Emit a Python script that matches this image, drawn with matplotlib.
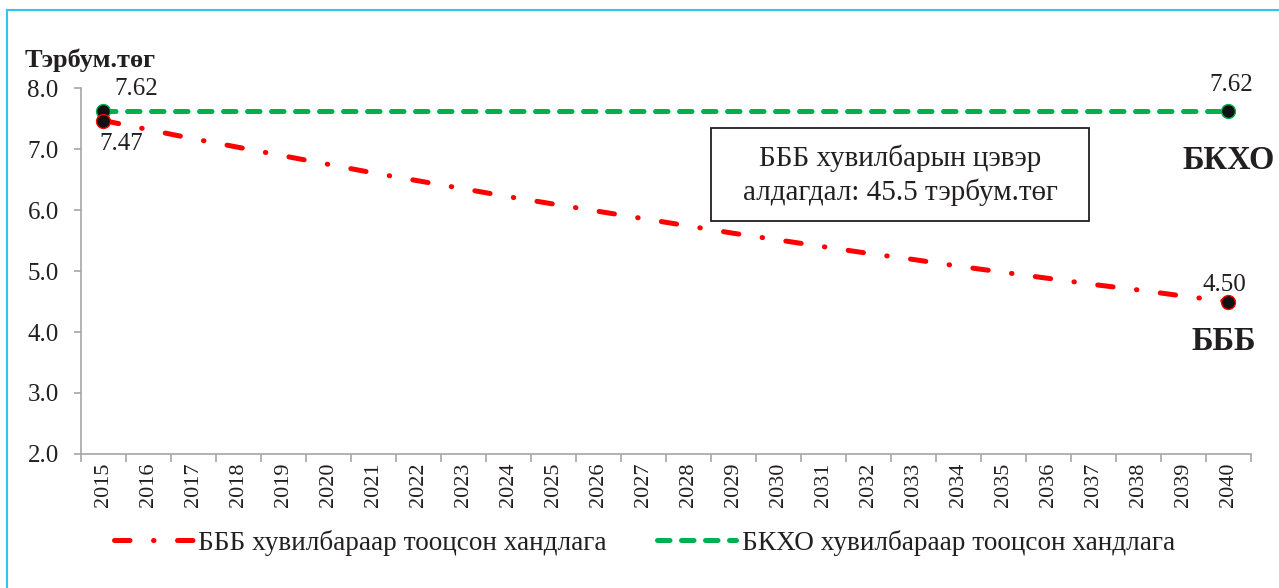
import matplotlib.pyplot as plt
from matplotlib.lines import Line2D
from matplotlib.patches import Rectangle

# Өгөгдөл
years = [str(y) for y in range(2015, 2041)]
bbb = [7.47, 7.32, 7.17, 7.03, 6.89, 6.75, 6.61, 6.48, 6.35, 6.22, 6.10, 5.98, 5.86,
       5.74, 5.62, 5.51, 5.40, 5.29, 5.19, 5.08, 4.98, 4.88, 4.78, 4.69, 4.59, 4.50]
bkho = [7.62] * 26
bbb_label = 'БББ хувилбараар тооцсон хандлага'
bkho_label = 'БКХО хувилбараар тооцсон хандлага'

plt.rcParams['font.family'] = ['Liberation Serif', 'DejaVu Serif']

red = '#FF0000'
green = '#00B050'
grey = '#A6A6A6'
txt = '#231F20'

fig = plt.figure(figsize=(12.79, 5.88), dpi=100)
ax = fig.add_axes([0.0633, 0.228, 0.9147, 0.622])

x = list(range(len(years)))
ax.plot(x, bkho, color=green, lw=3.6, dashes=(2.5, 2.3), dash_capstyle='round',
        marker='o', markevery=[0, len(x) - 1], ms=10, mfc='#111111', mec=green, mew=1.0,
        zorder=3)
ax.plot(x, bbb, color=red, lw=3.6, dashes=(3.1, 4.7, 0.1, 4.7), dash_capstyle='round',
        marker='o', markevery=[0, len(x) - 1], ms=10, mfc='#111111', mec=red, mew=1.0,
        zorder=3)

ax.set_xlim(-0.5, len(x) - 0.5)
ax.set_ylim(2.0, 8.0)
ax.set_yticks([2, 3, 4, 5, 6, 7, 8])
ax.set_yticklabels([f'{v:.1f}' for v in range(2, 9)], fontsize=18, color=txt)
ax.set_xticks(x)
ax.set_xticklabels(years, rotation=90, fontsize=16, color=txt)
ax.set_xticks([i - 0.5 for i in range(len(x) + 1)], minor=True)
ax.tick_params(axis='x', which='major', length=0, pad=6)
ax.tick_params(axis='x', which='minor', length=6, color=grey, width=1.2)
ax.tick_params(axis='y', length=5, color=grey, width=1.2, pad=11)

for s in ['top', 'right']:
    ax.spines[s].set_visible(False)
for s in ['left', 'bottom']:
    ax.spines[s].set_color(grey)
    ax.spines[s].set_linewidth(1.2)

# Утгын тэмдэглэгээ
ax.annotate(f'{bkho[0]:.2f}', (x[0], bkho[0]), xytext=(33, 22), textcoords='offset pixels',
            ha='center', va='center', fontsize=18, color=txt)
ax.annotate(f'{bbb[0]:.2f}', (x[0], bbb[0]), xytext=(18, -23), textcoords='offset pixels',
            ha='center', va='center', fontsize=18, color=txt)
ax.annotate(f'{bkho[-1]:.2f}', (x[-1], bkho[-1]), xytext=(3, 26), textcoords='offset pixels',
            ha='center', va='center', fontsize=18, color=txt)
ax.annotate(f'{bbb[-1]:.2f}', (x[-1], bbb[-1]), xytext=(-4, 17), textcoords='offset pixels',
            ha='center', va='center', fontsize=18, color=txt)
ax.annotate('БКХО', (x[-1], bkho[-1]), xytext=(0, -49), textcoords='offset pixels',
            ha='center', va='center', fontsize=23.5, fontweight='bold', color=txt)
ax.annotate('БББ', (x[-1], bbb[-1]), xytext=(-5, -40), textcoords='offset pixels',
            ha='center', va='center', fontsize=23.5, fontweight='bold', color=txt)

# Тайлбар хайрцаг
fig.add_artist(Rectangle((711 / 1279, 1 - 221 / 588), 378 / 1279, 93 / 588,
                         transform=fig.transFigure, fc='white', ec=txt, lw=1.3))
fig.text(900 / 1279, 1 - 175 / 588, 'БББ хувилбарын цэвэр\nалдагдал: 45.5 тэрбум.төг',
         ha='center', va='center', fontsize=21, color=txt, linespacing=1.3)

fig.text(25 / 1279, 1 - 60 / 588, 'Тэрбум.төг', ha='left', va='center',
         fontsize=19, fontweight='bold', color=txt)

handles = [Line2D([], [], color=red, lw=3.6, dashes=(3.1, 4.7, 0.1, 4.7), dash_capstyle='round'),
           Line2D([], [], color=green, lw=3.6, dashes=(2.5, 2.3), dash_capstyle='round')]
fig.legend(handles, [bbb_label, bkho_label], loc='center left',
           bbox_to_anchor=(114 / 1279, 1 - 543 / 588), borderpad=0, borderaxespad=0,
           ncol=2, frameon=False, fontsize=19.6, handlelength=2.9, handletextpad=0.2,
           columnspacing=1.85, labelcolor=txt)

# Хүрээ
fig.add_artist(Line2D([7 / 1279, 7 / 1279], [0, 1 - 10 / 588], color='#33C3EE', lw=1.5))
fig.add_artist(Line2D([7 / 1279, 1], [1 - 10 / 588, 1 - 10 / 588], color='#33C3EE', lw=1.5))

fig.savefig('out.png', dpi=100)
